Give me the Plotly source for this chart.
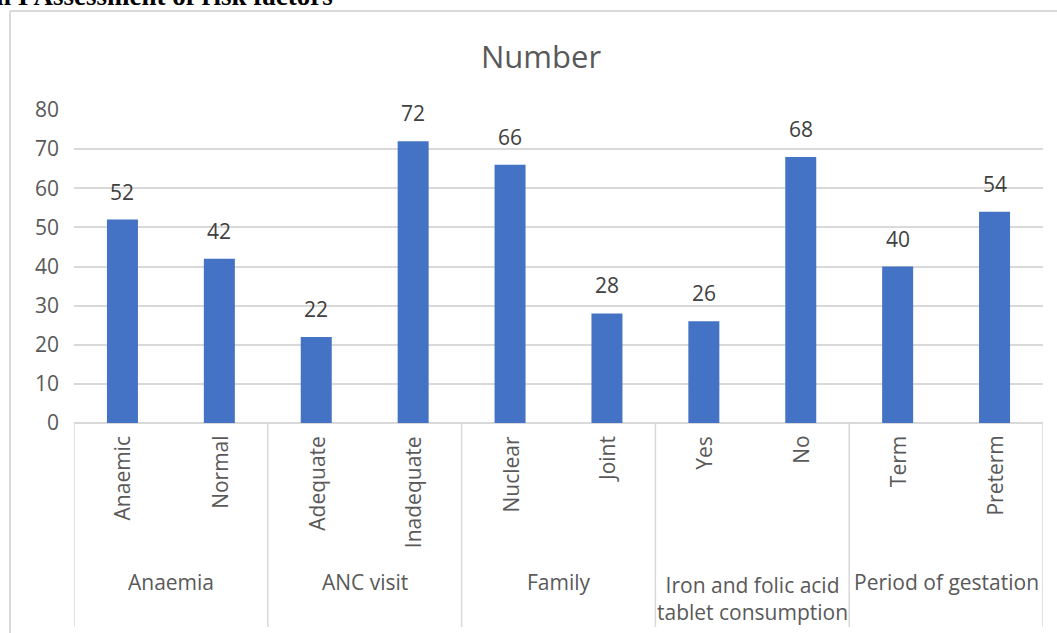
import plotly.graph_objects as go

categories = ["Anaemic", "Normal", "Adequate", "Inadequate", "Nuclear", "Joint",
              "Yes", "No", "Term", "Preterm"]
values = [52, 42, 22, 72, 66, 28, 26, 68, 40, 54]
groups = ["Anaemia", "ANC visit", "Family",
          "Iron and folic acid<br>tablet consumption", "Period of gestation"]
group_sizes = [2, 2, 2, 2, 2]
yticks = [0, 10, 20, 30, 40, 50, 60, 70, 80]

W, H = 1057, 633
L, R, T, B = 74, 14, 110, 210
PW, PH = W - L - R, H - T - B
FONT = "Open Sans"
FS = 21
TXT = "#595959"
GRID = "#d9d9d9"


def px_x(p):
    return (p - L) / PW


def px_y(p):
    return (H - B - p) / PH


fig = go.Figure()
fig.add_trace(go.Bar(x=categories, y=values, marker=dict(color="#4472C4", line=dict(width=0)),
                     showlegend=False, hoverinfo="x+y"))

annotations = []
# data labels
for c, v in zip(categories, values):
    annotations.append(dict(x=c, y=v, xref="x", yref="y", text=str(v), showarrow=False,
                            yanchor="bottom", yshift=12,
                            font=dict(family=FONT, size=FS, color="#404040")))
# rotated category labels
for c in categories:
    annotations.append(dict(x=c, y=0, xref="x", yref="paper", text=c, showarrow=False,
                            textangle=-90, yanchor="top", xanchor="center", yshift=-11,
                            font=dict(family=FONT, size=FS, color=TXT)))
# group labels and dividers
shapes = []
start = 0
for g, n in zip(groups, group_sizes):
    center = start + (n - 1) / 2
    annotations.append(dict(x=center, y=px_y(598 if "<br>" in g else 582), xref="x", yref="paper",
                            text=g, showarrow=False, yanchor="middle", xanchor="center",
                            font=dict(family=FONT, size=FS, color=TXT)))
    shapes.append(dict(type="line", xref="x", yref="paper", x0=start - 0.5, x1=start - 0.5,
                       y0=0, y1=px_y(627), line=dict(color=GRID, width=1.5)))
    start += n
shapes.append(dict(type="line", xref="x", yref="paper", x0=start - 0.5, x1=start - 0.5,
                   y0=0, y1=px_y(627), line=dict(color=GRID, width=1.5)))
# outer chart border (left and top)
shapes.append(dict(type="line", xref="paper", yref="paper", x0=px_x(10), x1=px_x(10),
                   y0=px_y(11), y1=px_y(640), line=dict(color=GRID, width=2)))
shapes.append(dict(type="line", xref="paper", yref="paper", x0=px_x(10), x1=px_x(1060),
                   y0=px_y(11), y1=px_y(11), line=dict(color=GRID, width=2)))

# title
annotations.append(dict(x=px_x(541), y=px_y(56), xref="paper", yref="paper", text="Number",
                        showarrow=False, xanchor="center", yanchor="middle",
                        font=dict(family=FONT, size=31, color=TXT)))
# cropped caption at the very top
annotations.append(dict(x=px_x(-6), y=px_y(13), xref="paper", yref="paper",
                        text="<b>n I Assessment of risk factors</b>", showarrow=False,
                        xanchor="left", yanchor="bottom",
                        font=dict(family="Liberation Serif", size=27, color="#000000")))

fig.update_layout(
    width=W, height=H,
    margin=dict(l=L, r=R, t=T, b=B),
    paper_bgcolor="white", plot_bgcolor="white",
    bargap=0.68,
    annotations=annotations, shapes=shapes,
    xaxis=dict(type="category", categoryorder="array", categoryarray=categories,
               showticklabels=False, ticks="", showgrid=False, showline=False,
               zeroline=False, range=[-0.5, len(categories) - 0.5]),
    yaxis=dict(range=[0, 80], tickvals=yticks, showgrid=True, gridcolor=GRID, gridwidth=1.5,
               zeroline=True, zerolinecolor=GRID, zerolinewidth=1.5, showline=False,
               ticks="", ticklabelstandoff=14,
               tickfont=dict(family=FONT, size=FS, color=TXT)),
)

fig.write_html("out.html")
